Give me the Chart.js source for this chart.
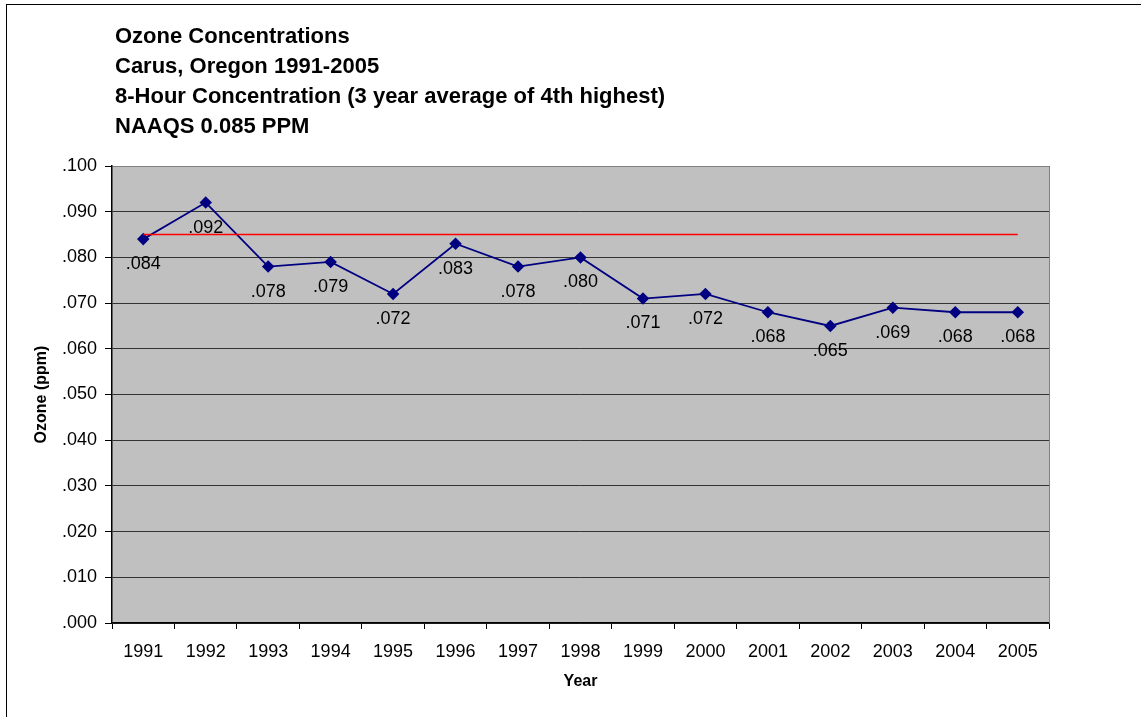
<!DOCTYPE html>
<html lang="en">
  <head>
    <meta charset="UTF-8" />
    <title>Ozone Concentrations</title>
    <style>
      * {
        margin: 0;
        padding: 0;
        box-sizing: border-box;
      }
      body {
        background: #ffffff;
        overflow: hidden;
      }
    </style>
    <script src="https://cdn.jsdelivr.net/npm/chart.js@4.4.0/dist/chart.umd.min.js"></script>
  </head>
  <body>
    <canvas id="myChart" width="1141" height="717"></canvas>

    <script>
      // chart data
      const years = ["1991", "1992", "1993", "1994", "1995", "1996", "1997", "1998",
        "1999", "2000", "2001", "2002", "2003", "2004", "2005"];
      const ozone = [0.084, 0.092, 0.078, 0.079, 0.072, 0.083, 0.078, 0.080,
        0.071, 0.072, 0.068, 0.065, 0.069, 0.068, 0.068];
      const naaqs = years.map(() => 0.085);
      const titleLines = [
        "Ozone Concentrations",
        "Carus, Oregon 1991-2005",
        "8-Hour Concentration (3 year average of 4th highest)",
        "NAAQS 0.085 PPM",
      ];

      const FONT = "Arial, 'Liberation Sans', sans-serif";
      Chart.defaults.font.family = FONT;
      Chart.defaults.color = "#000";

      function fmt(v) {
        return "." + v.toFixed(3).split(".")[1];
      }

      // gray plot background, frame, title lines, value labels
      const decor = {
        id: "decor",
        beforeDraw(chart) {
          const { ctx, chartArea: a } = chart;
          ctx.save();
          ctx.fillStyle = "#c0c0c0";
          ctx.fillRect(a.left, a.top, a.right - a.left, a.bottom - a.top);
          ctx.restore();
        },
        afterDraw(chart) {
          const { ctx, chartArea: a } = chart;
          ctx.save();
          // right edge of plot
          ctx.strokeStyle = "#808080";
          ctx.lineWidth = 1;
          ctx.beginPath();
          ctx.moveTo(a.right + 0.5, a.top);
          ctx.lineTo(a.right + 0.5, a.bottom);
          ctx.stroke();
          // outer frame
          ctx.strokeStyle = "#000";
          ctx.strokeRect(6.5, 4.5, 2000, 2000);
          // title
          ctx.fillStyle = "#000";
          ctx.font = "bold 22px " + FONT;
          ctx.textBaseline = "middle";
          ctx.textAlign = "left";
          titleLines.forEach((t, i) => ctx.fillText(t, 115, 37 + i * 30));
          // labels under points
          ctx.font = "18px " + FONT;
          ctx.textAlign = "center";
          chart.getDatasetMeta(1).data.forEach((p, i) => {
            ctx.fillText(fmt(ozone[i]), p.x, p.y + 25);
          });
          ctx.restore();
        },
      };

      const ctx = document.getElementById("myChart").getContext("2d");
      const myChart = new Chart(ctx, {
        type: "line",
        data: {
          labels: years,
          datasets: [
            {
              label: "NAAQS",
              data: naaqs,
              borderColor: "#ff0000",
              borderWidth: 1.5,
              pointRadius: 0,
              fill: false,
            },
            {
              label: "Ozone",
              data: ozone,
              borderColor: "#000080",
              backgroundColor: "#000080",
              borderWidth: 1.8,
              pointStyle: "rectRot",
              pointRadius: 5,
              fill: false,
              tension: 0,
            },
          ],
        },
        options: {
          responsive: false,
          animation: false,
          layout: { padding: { top: 166, right: 92, left: 0, bottom: 0 } },
          plugins: {
            legend: { display: false },
            tooltip: { enabled: false },
          },
          scales: {
            x: {
              offset: true,
              afterFit: (s) => { s.height = 94; },
              grid: {
                offset: true,
                drawOnChartArea: false,
                tickLength: 6,
                color: "#000",
              },
              border: { color: "#000", width: 1.5 },
              ticks: { font: { size: 18 }, padding: 12, maxRotation: 0 },
              title: {
                display: true,
                text: "Year",
                font: { size: 16, weight: "bold" },
                padding: { bottom: 26, top: 0 },
              },
            },
            y: {
              min: 0,
              max: 0.1,
              afterFit: (s) => { s.width = 112; },
              grid: {
                color: (c) => (c.tick && c.tick.value >= 0.1 ? "#808080" : "#333"),
                tickLength: 7,
                tickColor: "#000",
              },
              border: { color: "#000", width: 1.5 },
              ticks: {
                stepSize: 0.01,
                font: { size: 18 },
                padding: 8,
                callback: (v) => fmt(v),
              },
              title: {
                display: true,
                text: "Ozone (ppm)",
                font: { size: 16, weight: "bold" },
                padding: { top: 32, bottom: 0 },
              },
            },
          },
        },
        plugins: [decor],
      });
    </script>
  </body>
</html>
